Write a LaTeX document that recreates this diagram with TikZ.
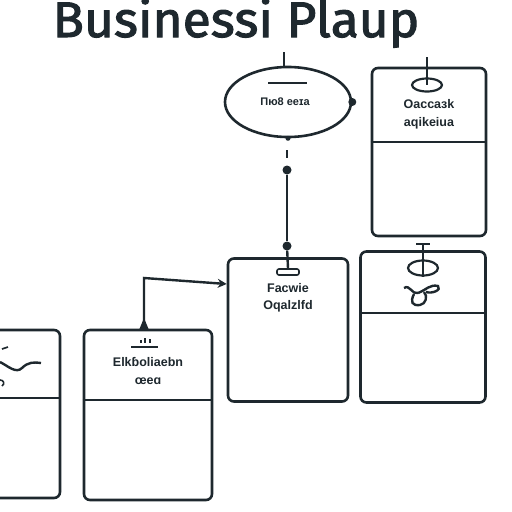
\documentclass[tikz,border=0pt]{standalone}
\usepackage{fontspec}
\setmainfont{Liberation Sans}
\newfontfamily\titlefont[FakeBold=2]{Fira Sans}
\usetikzlibrary{arrows.meta,shapes.geometric}
\definecolor{ink}{HTML}{1E282E}
\begin{document}
\begin{tikzpicture}[x=1pt,y=-1pt,
  line/.style={draw=ink,line width=2.4pt},
  box/.style={draw=ink,line width=2.6pt,rounded corners=6pt,inner sep=0pt},
  thin/.style={draw=ink,line width=1.6pt},
  lbl/.style={text=ink,font=\fontsize{12.5}{13}\selectfont\bfseries,inner sep=0pt},
  dot/.style={circle,fill=ink,inner sep=0pt,minimum size=7pt}]
\useasboundingbox[fill=white] (0,0) rectangle (512,512);
\clip (0,0) rectangle (512,512);
% title
\node[text=ink,font=\titlefont\fontsize{50}{50}\selectfont,anchor=base,inner sep=0pt,xscale=1.03] (title) at (236,37) {Businessi Plaup};
% ellipse
\node[ellipse,draw=ink,line width=2.6pt,minimum width=126pt,minimum height=70pt,inner sep=0pt] (ell) at (288,102) {};
\node[lbl,font=\fontsize{11}{12}\selectfont\bfseries] (elltxt) at (285,102) {Пю8 ееɪа};
\coordinate (etop) at (284,52);
\draw[line] (etop) -- (ell.north -| etop);
\draw[thin] (268,83) -- (307,83);
\node[dot,minimum size=8pt] (edot) at (ell.east) {};
\node[dot,minimum size=5pt] (ebot) at (ell.south) {};
% vertical connector
\draw[line] (287,150) -- (287,158);
\node[dot,minimum size=9pt] (v1) at (287,170) {};
\node[dot,minimum size=9pt] (v2) at (287,246) {};
\draw[line] (v1) -- (v2);
% box top right
\node[box,minimum width=114pt,minimum height=168pt] (b1) at (429,152) {};
\draw[line] (b1.west |- 0,142) -- (b1.east |- 0,142);
\node[ellipse,draw=ink,line width=2.2pt,minimum width=30pt,minimum height=13pt,inner sep=0pt] (e1) at (427,85) {};
\draw[line] (427,57) -- (e1.center);
\node[lbl] (t1a) at (429,104) {Oaccaɜk};
\node[lbl] (t1b) at (429,123) {aqikeiua};
% box middle
\node[box,minimum width=120pt,minimum height=143pt] (b2) at (288,330) {};
\node[draw=ink,line width=1.6pt,rounded corners=2pt,minimum width=22pt,minimum height=6pt,inner sep=0pt] (s2) at (288,272) {};
\draw[line] (v2) -- (s2.north);
\node[lbl] (t2a) at (288,288) {Facwie};
\node[lbl] (t2b) at (288,306) {Oqalzlfd};
% box right middle
\node[box,minimum width=125pt,minimum height=151pt] (b3) at (423,327) {};
\draw[line] (b3.west |- 0,313) -- (b3.east |- 0,313);
\node[ellipse,draw=ink,line width=2.2pt,minimum width=30pt,minimum height=15pt,inner sep=0pt] (e3) at (423,268) {};
\draw[line] (423,244) -- (e3.south);
\draw[thin] (416,244) -- (430,244);
\draw[line] (404,288) .. controls (410,284) and (412,295) .. (418,293);
\draw[line] (418,293) .. controls (426,290) and (430,284) .. (438,286) .. controls (442,290) and (432,294) .. (426,292);
\draw[line] (414,294) .. controls (410,302) and (412,306) .. (420,305) .. controls (426,304) and (428,296) .. (424,292);
% box bottom middle
\node[box,minimum width=128pt,minimum height=170pt] (b4) at (148,415) {};
\draw[line] (b4.west |- 0,400) -- (b4.east |- 0,400);
\node[lbl] (t4a) at (148,362) {Elkɓoliaebn};
\node[lbl] (t4b) at (148,381) {œeɑ};
\draw[thin] (131,347) -- (158,347);
\draw[thin] (141,343) -- (141,340);
\draw[thin] (145,343) -- (145,338);
\draw[thin] (150,343) -- (150,339);
% arrow connector
\coordinate (a1) at (144,278);
\draw[line,-{Stealth[length=9pt,width=9pt]}] (b4.north -| a1) -- (a1) -- (b2.west |- 0,284);
\fill[ink] (139,330) -- (144,318) -- (149,330) -- cycle;
% box left partial
\node[box,minimum width=80pt,minimum height=168pt] (b5) at (20,414) {};
\draw[line] (b5.west |- 0,398) -- (b5.east |- 0,398);
\draw[line] (0,362) .. controls (8,366) and (16,374) .. (22,368) .. controls (28,362) and (34,362) .. (41,363);
\draw[thin] (2,349) -- (8,347);
\draw[thin] (0,380) .. controls (4,380) and (5,384) .. (2,386);
\end{tikzpicture}
\end{document}
